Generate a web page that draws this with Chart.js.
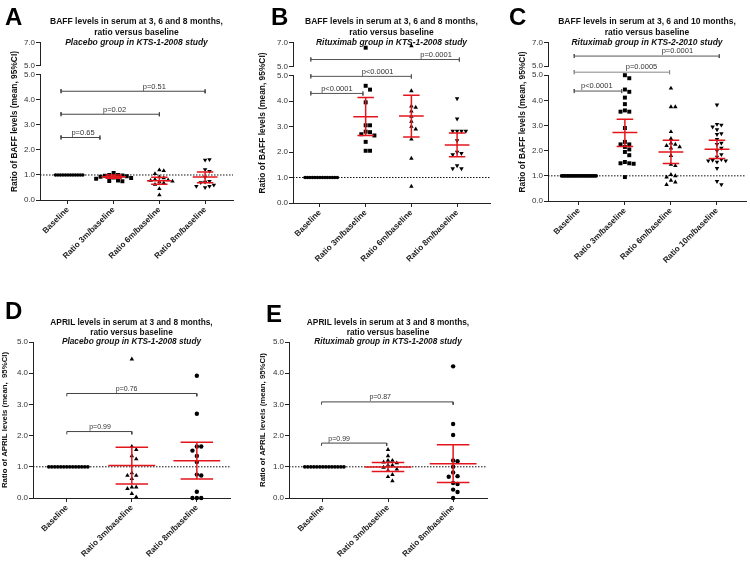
<!DOCTYPE html>
<html>
<head>
<meta charset="utf-8">
<script src="https://cdn.jsdelivr.net/npm/chart.js@4.4.0/dist/chart.umd.min.js"></script>
<style>
  body { margin: 0; background: #fff; }
  #wrap { position: relative; width: 750px; height: 561px; overflow: hidden; font-family: 'Liberation Sans', Arial, sans-serif; }
  canvas { position: absolute; }
  .tag { position: absolute; font-weight: bold; font-size: 24px; line-height: 1; color: #000; }
</style>
</head>
<body>
<div id="wrap">
  <canvas id="cA" width="245" height="278" style="left:0;top:0"></canvas>
  <canvas id="cB" width="250" height="278" style="left:250px;top:0"></canvas>
  <canvas id="cC" width="250" height="278" style="left:500px;top:0"></canvas>
  <canvas id="cD" width="245" height="281" style="left:0;top:280px"></canvas>
  <canvas id="cE" width="250" height="281" style="left:250px;top:280px"></canvas>
  <div class="tag" style="left:5px;top:5px">A</div>
  <div class="tag" style="left:271px;top:5px">B</div>
  <div class="tag" style="left:509px;top:5px">C</div>
  <div class="tag" style="left:5px;top:299px">D</div>
  <div class="tag" style="left:266px;top:302px">E</div>
</div>
<script>
// categories
const catsA = ['Baseline', 'Ratio 3m/baseline', 'Ratio 6m/baseline', 'Ratio 8m/baseline'];
const catsC = ['Baseline', 'Ratio 3m/baseline', 'Ratio 6m/baseline', 'Ratio 10m/baseline'];
const catsD = ['Baseline', 'Ratio 3m/baseline', 'Ratio 8m/baseline'];

// A - BAFF, placebo, KTS-1-2008
const baseA = [1, 1, 1, 1, 1, 1, 1, 1, 1, 1, 1, 1];
const a3m = [1.08, 1.0, 1.0, 0.98, 0.97, 0.95, 0.93, 0.9, 0.88, 0.85, 0.78, 0.76, 0.75];
const a6m = [1.2, 1.17, 1.05, 0.92, 0.88, 0.82, 0.8, 0.78, 0.75, 0.72, 0.68, 0.62, 0.45, 0.2];
const a8m = [1.6, 1.62, 1.22, 1.15, 0.92, 0.75, 0.72, 0.7, 0.6, 0.55, 0.55, 0.5];
const meanA = [0.93, 0.77, 0.92];
const lowA = [0.87, 0.63, 0.69];
const highA = [1.0, 0.91, 1.12];
const pA = ['p=0.65', 'p=0.02', 'p=0.51'];

// B - BAFF, rituximab, KTS-1-2008
const baseB = [1, 1, 1, 1, 1, 1, 1, 1, 1, 1, 1, 1, 1, 1];
const b3m = [6.6, 4.6, 4.45, 3.95, 3.05, 3.05, 2.8, 2.78, 2.7, 2.65, 2.4, 2.05, 2.05];
const b6m = [6.75, 4.4, 3.8, 3.75, 3.6, 3.4, 3.2, 3.0, 2.9, 2.5, 1.75, 0.65];
const b8m = [4.1, 3.3, 2.82, 2.82, 2.82, 2.82, 2.45, 2.0, 1.95, 1.9, 1.47, 1.35, 1.35];
const meanB = [3.39, 3.41, 2.28];
const lowB = [2.65, 2.59, 1.82];
const highB = [4.14, 4.23, 2.75];
const pB = ['p<0.0001', 'p<0.0001', 'p=0.0001'];

// C - BAFF, rituximab, KTS-2-2010
const baseC = [1, 1, 1, 1, 1, 1, 1, 1, 1, 1, 1, 1, 1, 1, 1, 1, 1, 1, 1, 1, 1, 1, 1, 1, 1];
const c3m = [5.0, 4.88, 4.43, 4.34, 4.11, 3.85, 3.6, 3.55, 3.55, 2.9, 2.35, 2.25, 2.25, 2.15, 2.05, 1.95, 1.82, 1.55, 1.5, 1.5, 1.48, 0.95];
const c6m = [4.48, 3.74, 3.74, 2.75, 2.48, 2.3, 2.25, 2.2, 2.15, 2.1, 1.8, 1.45, 1.4, 1.05, 1.0, 0.95, 0.82, 0.75, 0.65];
const c10m = [3.82, 3.05, 3.02, 2.95, 2.84, 2.68, 2.65, 2.45, 2.3, 2.25, 2.1, 2.0, 1.85, 1.75, 1.65, 1.62, 1.6, 1.6, 1.55, 1.3, 0.78, 0.65];
const meanC = [2.72, 1.95, 2.06];
const lowC = [2.17, 1.49, 1.69];
const highC = [3.25, 2.41, 2.41];
const pC = ['p<0.0001', 'p=0.0005', 'p=0.0001'];

// D - APRIL, placebo
const baseD = [1, 1, 1, 1, 1, 1, 1, 1, 1, 1, 1, 1, 1, 1];
const d3m = [4.45, 1.65, 1.55, 1.35, 1.25, 0.8, 0.72, 0.72, 0.62, 0.35, 0.35, 0.3, 0.14, 0.03];
const d8m = [3.92, 2.7, 1.65, 1.65, 1.52, 1.35, 1.15, 0.75, 0.72, 0.2, 0.0, 0.0, 0.0];
const meanD = [1.04, 1.19];
const lowD = [0.45, 0.61];
const highD = [1.63, 1.79];
const pD = ['p=0.99', 'p=0.76'];

// E - APRIL, rituximab
const baseE = [1, 1, 1, 1, 1, 1, 1, 1, 1, 1, 1, 1, 1, 1];
const e3m = [1.55, 1.35, 1.2, 1.2, 1.15, 1.12, 1.05, 1.05, 0.98, 0.92, 0.88, 0.75, 0.68, 0.55];
const e8m = [4.22, 2.37, 2.02, 1.2, 1.18, 1.0, 0.82, 0.7, 0.68, 0.48, 0.45, 0.27, 0.19, 0.0];
const meanE = [0.99, 1.10];
const lowE = [0.85, 0.50];
const highE = [1.14, 1.71];
const pE = ['p=0.99', 'p=0.87'];

const FONT = "'Liberation Sans', Arial, sans-serif";
Chart.defaults.font.family = FONT;
Chart.defaults.color = '#222';
const RED = '#e3161d';

// p-value text above the brackets
const pvals = {
  id: 'pvals',
  afterDatasetsDraw(chart, args, opts) {
    const ctx = chart.ctx;
    ctx.save();
    ctx.font = opts.size + 'px ' + FONT;
    ctx.fillStyle = '#333';
    ctx.textAlign = 'center';
    ctx.textBaseline = 'bottom';
    opts.items.forEach(b => {
      ctx.fillText(b.text, chart.scales.x.getPixelForValue(b.lx), chart.scales[b.axis].getPixelForValue(b.y) - 1);
    });
    ctx.restore();
  }
};

// simple beeswarm offsets (category units) so dots don't overlap
function swarm(vals, pxCat, pxY, d) {
  const placed = [];
  return vals.map(v => {
    for (let k = 0; k < 200; k++) {
      const off = (k % 2 ? 1 : -1) * Math.ceil(k / 2);
      const dx = off * d / pxCat;
      const hit = placed.some(p => Math.abs(p.dx - dx) * pxCat < d - 0.01 && Math.abs(p.v - v) * pxY < d);
      if (!hit) { placed.push({ dx, v }); return dx; }
    }
    return 0;
  });
}

function build(P) {
  const ds = [];
  // dotted line at 1.0
  ds.push({ data: [{ x: P.xr[0], y: 1 }, { x: P.xr[1], y: 1 }], showLine: true, borderColor: '#111',
    borderWidth: 1, borderDash: [1.5, 1.5], pointRadius: 0, order: 5, yAxisID: 'y' });

  P.groups.forEach((vals, i) => {
    const d = i === 0 ? P.baseD : 4.4;
    const dx = swarm(vals, P.pxCat, P.pxY, d);
    const lower = [], upper = [];
    vals.forEach((v, j) => (P.broken && v > 5 ? upper : lower).push({ x: i + dx[j], y: v }));
    const shape = P.shapes[i];
    const st = {
      pointStyle: shape === 'triangleDown' ? 'triangle' : shape,
      rotation: shape === 'triangleDown' ? 180 : 0,
      pointRadius: i === 0 ? P.baseR : (shape === 'circle' ? 2.2 : shape === 'rect' ? 2.8 : 2.6),
      pointBackgroundColor: '#000', pointBorderColor: '#000', pointBorderWidth: 0,
      order: 3, clip: false
    };
    ds.push(Object.assign({ data: lower, yAxisID: 'y' }, st));
    if (upper.length) ds.push(Object.assign({ data: upper, yAxisID: 'y2' }, st));
  });

  // mean and 95% CI
  P.mean.forEach((m, k) => {
    const c = k + 1, lo = P.lo[k], hi = P.hi[k];
    ds.push({
      data: [
        { x: c - P.cw, y: hi }, { x: c + P.cw, y: hi }, { x: c, y: null },
        { x: c, y: hi }, { x: c, y: lo }, { x: c, y: null },
        { x: c - P.cw, y: lo }, { x: c + P.cw, y: lo }, { x: c, y: null },
        { x: c - P.mw, y: m }, { x: c + P.mw, y: m }
      ],
      showLine: true, spanGaps: false, borderColor: RED, borderWidth: 1.5, pointRadius: 0, order: 1, yAxisID: 'y'
    });
  });

  // significance brackets
  const items = [];
  P.br.forEach((b, k) => {
    const [x0, x1, y, axis, lx, col] = b;
    const l = P.leg[axis];
    const pts = P.legDown
      ? [{ x: x0, y: y - l }, { x: x0, y: y }, { x: x1, y: y }, { x: x1, y: y - l }]
      : [{ x: x0, y: y + l }, { x: x0, y: y - l }, { x: x0, y: y }, { x: x1, y: y }, { x: x1, y: y + l }, { x: x1, y: y - l }];
    ds.push({ data: pts, showLine: true, borderColor: col || '#555', borderWidth: 1, pointRadius: 0, order: 2, yAxisID: axis, clip: false });
    items.push({ text: P.p[k], lx, y, axis });
  });

  const yBase = (min, max, weight) => {
    const s = {
      type: 'linear', position: 'left', min, max,
      ticks: { stepSize: 1, callback: v => v.toFixed(1), font: { size: 8 }, color: '#333', padding: 1 },
      grid: { drawOnChartArea: false, tickLength: 4, color: '#222' },
      border: { color: '#222' },
      afterFit: sc => { sc.width = P.yW; }
    };
    if (P.broken) { s.stack = 'v'; s.stackWeight = weight; }
    return s;
  };

  const scales = {
    x: {
      type: 'linear', min: P.xr[0], max: P.xr[1],
      afterBuildTicks: s => { s.ticks = P.cats.map((c, i) => ({ value: i })); },
      ticks: { callback: v => P.cats[v], minRotation: 45, maxRotation: 45, autoSkip: false,
        font: { size: 8.2, weight: 'bold' }, color: '#222', padding: 1 },
      grid: { drawOnChartArea: false, tickLength: 4, color: '#222' },
      border: { color: '#222' },
      afterFit: s => { s.height = P.xH; }
    },
    y: yBase(0, 5, 125)
  };
  if (P.broken) {
    scales.yg = {
      type: 'linear', position: 'left', min: 0, max: 1, stack: 'v', stackWeight: 9,
      ticks: { display: false }, grid: { display: false }, border: { display: false },
      afterFit: s => { s.width = P.yW; }
    };
    scales.y2 = yBase(5, 7, 23);
  }
  scales.yt = {
    type: 'linear', position: 'left', weight: 10, min: 0, max: 1,
    ticks: { display: false }, grid: { display: false }, border: { display: false },
    title: { display: true, text: P.ytitle, font: { size: P.yts, weight: 'bold' }, color: '#111', padding: 0 },
    afterFit: s => { s.width = P.tW; }
  };

  const lh = P.ts * P.lh;
  new Chart(document.getElementById(P.id), {
    type: 'scatter',
    data: { datasets: ds },
    options: {
      responsive: false,
      animation: false,
      layout: { padding: { left: P.pad[0], right: P.pad[1], top: 0, bottom: 0 } },
      plugins: {
        legend: { display: false },
        tooltip: { enabled: false },
        title: { display: true, text: P.title, fullSize: false, color: '#111',
          font: { size: P.ts, weight: 'bold', lineHeight: P.lh }, padding: { top: P.tTop - lh / 2, bottom: 0 } },
        subtitle: { display: true, text: P.sub, fullSize: false, color: '#111',
          font: { size: P.ts, weight: 'bold', style: 'italic', lineHeight: P.lh }, padding: { top: 0, bottom: -lh / 2 } },
        pvals: { items, size: P.pSize }
      },
      scales
    },
    plugins: [pvals]
  });
}

const baffTitle8 = ['BAFF levels in serum at 3, 6 and 8 months,', 'ratio versus baseline'];
const baffTitle10 = ['BAFF levels in serum at 3, 6 and 10 months,', 'ratio versus baseline'];
const aprilTitle = ['APRIL levels in serum at 3 and 8 months,', 'ratio versus baseline'];

const shapes4 = ['circle', 'rect', 'triangle', 'triangleDown'];

build({ id: 'cA', cats: catsA, groups: [baseA, a3m, a6m, a8m], mean: meanA, lo: lowA, hi: highA, p: pA,
  title: baffTitle8, sub: 'Placebo group in KTS-1-2008 study', ytitle: 'Ratio of BAFF levels (mean, 95%CI)',
  broken: true, xr: [-0.61, 3.61], pad: [10, 12], tW: 12, yW: 18, xH: 78, tTop: 22, ts: 8.5, lh: 1.235, yts: 8.4,
  pxCat: 46, pxY: 25, baseD: 2.5, baseR: 1.8, shapes: shapes4, mw: 0.27, cw: 0.18, pSize: 7.5,
  leg: { y: 0.08, y2: 0.17 }, legDown: false,
  br: [[-0.15, 0.7, 2.5, 'y', 0.33, '#444'], [-0.15, 2, 3.43, 'y', 1.02, '#444'], [-0.15, 3, 4.35, 'y', 1.89, '#444']] });

build({ id: 'cB', cats: catsA, groups: [baseB, b3m, b6m, b8m], mean: meanB, lo: lowB, hi: highB, p: pB,
  title: baffTitle8, sub: 'Rituximab group in KTS-1-2008 study', ytitle: 'Ratio of BAFF levels (mean, 95%CI)',
  broken: true, xr: [-0.59, 3.72], pad: [8, 10], tW: 15, yW: 20, xH: 75, tTop: 22, ts: 8.5, lh: 1.235, yts: 8.4,
  pxCat: 46, pxY: 25, baseD: 2.5, baseR: 1.8, shapes: shapes4, mw: 0.27, cw: 0.18, pSize: 7.5,
  leg: { y: 0.08, y2: 0.17 }, legDown: false,
  br: [[-0.2, 0.94, 4.3, 'y', 0.37], [-0.2, 2, 4.97, 'y', 1.26], [-0.2, 3.05, 5.59, 'y2', 2.54]] });

build({ id: 'cC', cats: catsC, groups: [baseC, c3m, c6m, c10m], mean: meanC, lo: lowC, hi: highC, p: pC,
  title: baffTitle10, sub: 'Rituximab group in KTS-2-2010 study', ytitle: 'Ratio of BAFF levels (mean, 95%CI)',
  broken: true, xr: [-0.67, 3.63], pad: [18, 3], tW: 12, yW: 18, xH: 77, tTop: 22, ts: 8.5, lh: 1.235, yts: 8.4,
  pxCat: 46.3, pxY: 25, baseD: 1.45, baseR: 1.9, shapes: shapes4, mw: 0.27, cw: 0.18, pSize: 7.5,
  leg: { y: 0.08, y2: 0.17 }, legDown: false,
  br: [[-0.1, 0.93, 4.37, 'y', 0.39], [-0.1, 1.97, 5.12, 'y', 1.36, '#888'], [-0.1, 3.05, 5.87, 'y2', 2.14]] });

build({ id: 'cD', cats: catsD, groups: [baseD, d3m, d8m], mean: meanD, lo: lowD, hi: highD, p: pD,
  title: aprilTitle, sub: 'Placebo group in KTS-1-2008 study', ytitle: 'Ratio of APRIL levels (mean,  95%CI)',
  broken: false, xr: [-0.52, 2.51], pad: [0, 15], tW: 12, yW: 21, xH: 63, tTop: 43, ts: 8.3, lh: 1.145, yts: 7.8,
  pxCat: 65, pxY: 31.2, baseD: 3, baseR: 1.9, shapes: ['circle', 'triangle', 'circle'], mw: 0.36, cw: 0.25, pSize: 7,
  leg: { y: 0.09 }, legDown: true,
  br: [[0, 1, 2.13, 'y', 0.51, '#444'], [0, 2, 3.35, 'y', 0.92, '#444']] });

build({ id: 'cE', cats: catsD, groups: [baseE, e3m, e8m], mean: meanE, lo: lowE, hi: highE, p: pE,
  title: aprilTitle, sub: 'Rituximab group in KTS-1-2008 study', ytitle: 'Ratio of APRIL levels (mean, 95%CI)',
  broken: false, xr: [-0.52, 2.52], pad: [8.5, 13], tW: 12, yW: 18.5, xH: 63, tTop: 43, ts: 8.3, lh: 1.145, yts: 7.8,
  pxCat: 65, pxY: 31.2, baseD: 3, baseR: 1.9, shapes: ['circle', 'triangle', 'circle'], mw: 0.36, cw: 0.25, pSize: 7,
  leg: { y: 0.09 }, legDown: true,
  br: [[-0.02, 0.98, 1.76, 'y', 0.25, '#444'], [-0.02, 2, 3.08, 'y', 0.88, '#444']] });
</script>
</body>
</html>
